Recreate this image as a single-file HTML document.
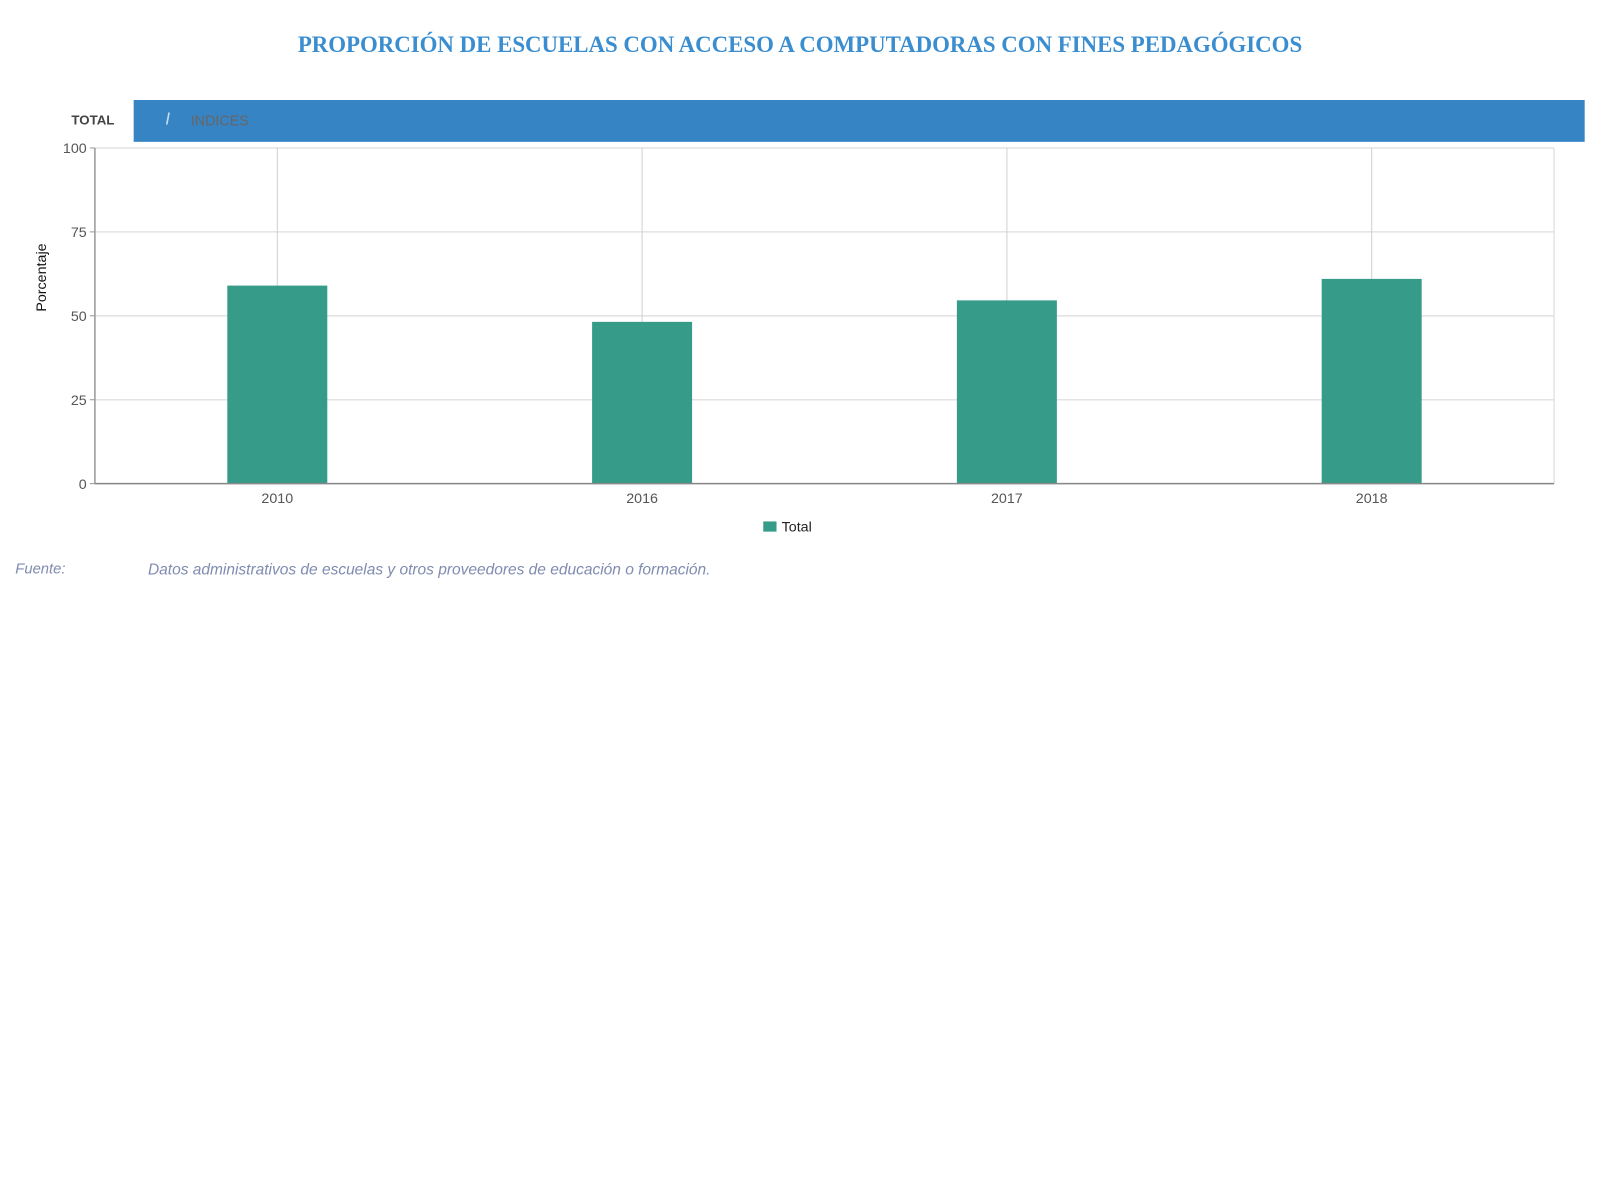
<!DOCTYPE html>
<html><head><meta charset="utf-8"><style>
body{margin:0;background:#fff;font-family:"Liberation Sans",sans-serif;overflow:hidden;}
#wrap{transform:scale(1.0204);transform-origin:0 0;}
</style></head><body>
<div id="wrap" style="position:relative;width:1568px;height:1176px;">
<div style="position:absolute;top:31px;left:0;width:1568px;text-align:center;font-family:'Liberation Serif',serif;font-weight:bold;font-size:22.4px;color:#3a8ed0;">PROPORCIÓN DE ESCUELAS CON ACCESO A COMPUTADORAS CON FINES PEDAGÓGICOS</div>
<div style="position:absolute;left:70px;top:110px;font-size:13px;font-weight:bold;color:#444;">TOTAL</div>
<div style="position:absolute;left:131px;top:98px;width:1422px;height:41px;background:#3784c4;">
<span style="position:absolute;left:31px;top:9px;font-size:17px;color:#c8ddf0;font-style:italic;">I</span>
<span style="position:absolute;left:56px;top:12px;font-size:14px;color:#666;">INDICES</span>
</div>
<svg id="chart" width="1568" height="540" style="position:absolute;left:0;top:0"></svg>
<div style="position:absolute;left:15px;top:550px;font-size:14.5px;font-style:italic;color:#7f8bb0;">Fuente:</div>
<div style="position:absolute;left:145px;top:550px;font-size:15.2px;font-style:italic;color:#7f8bb0;">Datos administrativos de escuelas y otros proveedores de educación o formación.</div>
</div>
<script>
const categories=["2010","2016","2017","2018"];
const values=[59.0,48.2,54.6,61.0];
const yTicks=[0,25,50,75,100];
const NS="http://www.w3.org/2000/svg";
const svg=document.getElementById("chart");
const x0=93,x1=1523,yTop=145,yBot=474;
const band=(x1-x0)/categories.length;
const xc=i=>x0+band*(i+0.5);
const y=v=>yBot-(v/100)*(yBot-yTop);
function mk(t,a){const e=document.createElementNS(NS,t);for(const k in a)e.setAttribute(k,a[k]);svg.appendChild(e);return e;}
yTicks.forEach(t=>{
const l=mk("line",{x1:x0,x2:x1,y1:y(t),y2:y(t),stroke:"#e3e3e3","stroke-width":1.5});


const k=mk("line",{x1:x0-5,x2:x0,y1:y(t),y2:y(t),stroke:"#999"});


const tx=mk("text",{x:x0-8,y:y(t)+5,"text-anchor":"end","font-size":14,fill:"#555"});tx.textContent=t;


});
categories.forEach((c,i)=>{
const g=mk("line",{x1:xc(i),x2:xc(i),y1:yTop,y2:yBot,stroke:"#d0d0d0"});


});
const fr=mk("line",{x1:x1,x2:x1,y1:yTop,y2:yBot,stroke:"#d8d8d8"});


categories.forEach((c,i)=>{
const r=mk("rect",{x:xc(i)-49,y:y(values[i]),width:98,height:yBot-y(values[i]),fill:"#379b8a"});


const tx=mk("text",{x:xc(i),y:yBot+19,"text-anchor":"middle","font-size":14,fill:"#555"});tx.textContent=c;


});
const ya=mk("line",{x1:x0,x2:x0,y1:yTop,y2:yBot,stroke:"#999","stroke-width":1.5});


const xa=mk("line",{x1:x0,x2:x1,y1:yBot,y2:yBot,stroke:"#888","stroke-width":1.5});


const yt=mk("text",{x:45,y:272,"text-anchor":"middle","font-size":14,fill:"#111",transform:"rotate(-90 45 272)"});yt.textContent="Porcentaje";


const ls=mk("rect",{x:748,y:511,width:13,height:10,fill:"#379b8a"});


const lt=mk("text",{x:766,y:521,"font-size":14,fill:"#222"});lt.textContent="Total";


</script>
</body></html>
